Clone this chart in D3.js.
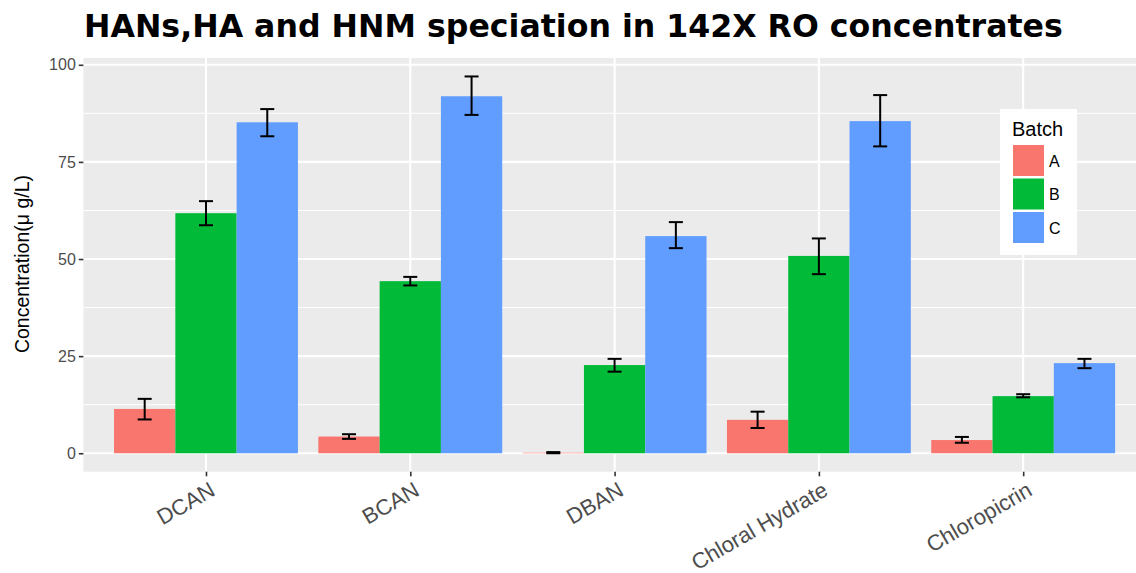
<!DOCTYPE html>
<html><head><meta charset="utf-8">
<script src="https://cdn.jsdelivr.net/npm/d3@7"></script>
<style>body{margin:0;background:#fff}svg{display:block}</style>
</head><body>
<svg id="c" width="1136" height="573"></svg>
<script>
const categories = ["DCAN","BCAN","DBAN","Chloral Hydrate","Chloropicrin"];
const batches = ["A","B","C"];
const valuesA = [11.4, 4.3, 0.15, 8.6, 3.4];
const valuesB = [61.8, 44.3, 22.7, 50.8, 14.7];
const valuesC = [85.2, 91.9, 55.9, 85.5, 23.2];
const lowA = [8.7, 3.7, 0.0, 6.5, 2.7];
const highA = [14.0, 4.9, 0.3, 10.7, 4.2];
const lowB = [58.7, 43.2, 21.0, 46.1, 14.4];
const highB = [64.9, 45.4, 24.3, 55.3, 15.2];
const lowC = [81.6, 87.1, 52.8, 79.0, 21.9];
const highC = [88.6, 97.0, 59.5, 92.2, 24.3];
const yTicks = [0, 25, 50, 75, 100];
const yMinor = [12.5, 37.5, 62.5, 87.5];
const colors = ["#F8766D", "#00BA38", "#619CFF"];

const series = [
  {b:"A", v:valuesA, lo:lowA, hi:highA},
  {b:"B", v:valuesB, lo:lowB, hi:highB},
  {b:"C", v:valuesC, lo:lowC, hi:highC}
];

const svg = d3.select("#c");
const L = 83.4, T = 58, B = 471.7, R = 83.4 + 5.2*204.3;
const x = d3.scalePoint().domain(categories).range([L, R]).padding(0.6);
const step = x.step();
const sub = d3.scaleBand().domain(batches).range([-0.45*step, 0.45*step]);
const y = d3.scaleLinear().domain([-4.75, 101.75]).range([B, T]);
const color = d3.scaleOrdinal().domain(batches).range(colors);

svg.append("rect").attr("x", L).attr("y", T).attr("width", R-L).attr("height", B-T).attr("fill", "#EBEBEB");
svg.selectAll(".ymin").data(yMinor).join("line")
  .attr("x1", L).attr("x2", R).attr("y1", d=>y(d)).attr("y2", d=>y(d))
  .attr("stroke", "#fff").attr("stroke-width", 1);
svg.selectAll(".ymaj").data(yTicks).join("line")
  .attr("x1", L).attr("x2", R).attr("y1", d=>y(d)).attr("y2", d=>y(d))
  .attr("stroke", "#fff").attr("stroke-width", 2.1);
svg.selectAll(".xmaj").data(categories).join("line")
  .attr("x1", d=>x(d)).attr("x2", d=>x(d)).attr("y1", T).attr("y2", B)
  .attr("stroke", "#fff").attr("stroke-width", 2.1);

// bars
series.forEach(s => {
  svg.append("g").selectAll("rect").data(categories).join("rect")
    .attr("x", (d)=>x(d)+sub(s.b))
    .attr("width", sub.bandwidth())
    .attr("y", (d,i)=>y(s.v[i]))
    .attr("height", (d,i)=>y(0)-y(s.v[i]))
    .attr("fill", color(s.b));
});
// error bars
const capW = 14;
series.forEach(s => {
  const g = svg.append("g").attr("stroke", "#000").attr("stroke-width", 2);
  categories.forEach((c,i) => {
    const cx = x(c)+sub(s.b)+sub.bandwidth()/2;
    g.append("line").attr("x1", cx).attr("x2", cx).attr("y1", y(s.lo[i])).attr("y2", y(s.hi[i]));
    g.append("line").attr("x1", cx-capW/2).attr("x2", cx+capW/2).attr("y1", y(s.lo[i])).attr("y2", y(s.lo[i]));
    g.append("line").attr("x1", cx-capW/2).attr("x2", cx+capW/2).attr("y1", y(s.hi[i])).attr("y2", y(s.hi[i]));
  });
});

// y axis
const yAxis = d3.axisLeft(y).tickValues(yTicks).tickSize(4.6).tickPadding(3);
const ya = svg.append("g").attr("transform", `translate(${L},0)`).call(yAxis);
ya.select(".domain").remove();
ya.selectAll(".tick line").attr("stroke", "#333").attr("stroke-width", 1.6);
ya.selectAll(".tick text").attr("fill", "#4D4D4D").attr("font-family", "Liberation Sans, Arial, sans-serif").attr("font-size", 16);

// x axis
const xAxis = d3.axisBottom(x).tickSize(4.6).tickPadding(3);
const xa = svg.append("g").attr("transform", `translate(0,${B})`).call(xAxis);
xa.select(".domain").remove();
xa.selectAll(".tick line").attr("stroke", "#333").attr("stroke-width", 1.6);
xa.selectAll(".tick text")
  .attr("fill", "#4D4D4D").attr("font-family", "Liberation Sans, Arial, sans-serif").attr("font-size", 22)
  .attr("text-anchor", "end").attr("dy", "0.72em")
  .attr("transform", "translate(2,9) rotate(-30)").attr("y", 0).attr("x", 0);

// y title
svg.append("text").attr("transform", `translate(29,${(y(0)+y(100))/2+5}) rotate(-90)`)
  .attr("text-anchor", "middle").attr("font-family", "Liberation Sans, Arial, sans-serif")
  .attr("font-size", 19.5).attr("fill", "#000").text("Concentration(\u03BC g/L)");

// title
const title = svg.append("text").attr("x", 84).attr("y", 37)
  .attr("font-family", "DejaVu Sans, Verdana, sans-serif").attr("font-weight", "bold")
  .attr("font-size", 32).attr("fill", "#000")
  .text("HANs,HA and HNM speciation in 142X RO concentrates");
const tw = title.node().getComputedTextLength();
title.attr("font-size", 32*979/tw);

// legend
const lg = svg.append("g");
lg.append("rect").attr("x", 1000).attr("y", 109).attr("width", 77).attr("height", 146).attr("fill", "#fff");
lg.append("text").attr("x", 1012).attr("y", 136).attr("font-family", "Liberation Sans, Arial, sans-serif")
  .attr("font-size", 20).attr("fill", "#000").text("Batch");
batches.forEach((b,i) => {
  lg.append("rect").attr("x", 1013).attr("y", 145 + i*33.5).attr("width", 31).attr("height", 31).attr("fill", color(b));
  lg.append("text").attr("x", 1049).attr("y", 145 + i*33.5 + 21.5).attr("font-family", "Liberation Sans, Arial, sans-serif")
    .attr("font-size", 16).attr("fill", "#000").text(b);
});
</script>
</body></html>
